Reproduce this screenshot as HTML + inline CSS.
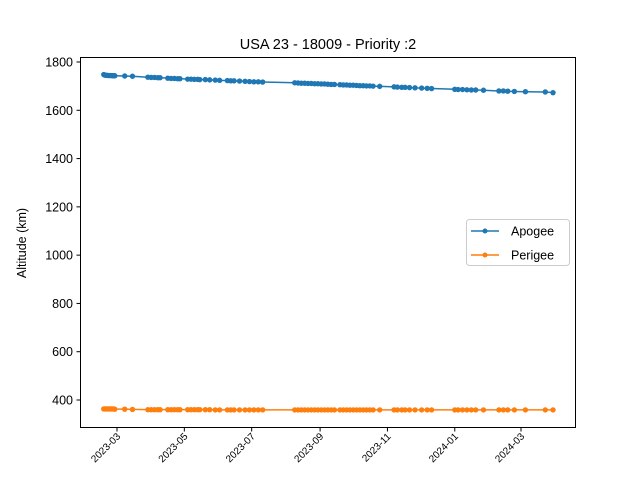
<!DOCTYPE html>
<html><head><meta charset="utf-8">
<style>
html,body{margin:0;padding:0;background:#fff;}
svg{display:block;font-family:"Liberation Sans","DejaVu Sans",sans-serif;}
</style></head>
<body>
<svg id="chart" width="640" height="480" viewBox="0 0 640 480" xmlns="http://www.w3.org/2000/svg">
<rect x="0" y="0" width="640" height="480" fill="#fff"/>
<text x="328" y="49" font-size="14.5" text-anchor="middle">USA 23 - 18009 - Priority :2</text>
<text transform="translate(26,243) rotate(-90)" font-size="12.5" text-anchor="middle">Altitude (km)</text>
<g id="plot"></g>
<rect x="80.5" y="57.5" width="495" height="370" fill="none" stroke="#000" stroke-width="1"/>
<g>
<rect x="466.5" y="219.5" width="103" height="46" rx="3" fill="#fff" stroke="#ccc"/>
<g>
<line x1="471" y1="231" x2="499" y2="231" stroke="#1f77b4" stroke-width="1.5"/>
<circle cx="485" cy="231" r="2.5" fill="#1f77b4"/>
<text x="511" y="235.5" font-size="12.5">Apogee</text></g>
<g>
<line x1="471" y1="255" x2="499" y2="255" stroke="#ff7f0e" stroke-width="1.5"/>
<circle cx="485" cy="255" r="2.5" fill="#ff7f0e"/>
<text x="511" y="259.5" font-size="12.5">Perigee</text></g>
</g>
</svg>
<script>
const dates = ["2023-02-17","2023-02-18","2023-02-19","2023-02-20","2023-02-21","2023-02-22","2023-02-23","2023-02-24","2023-02-25","2023-02-26","2023-02-27",
"2023-03-08","2023-03-15","2023-03-29","2023-04-01","2023-04-04","2023-04-07","2023-04-09",
"2023-04-16","2023-04-19","2023-04-22","2023-04-25","2023-04-27",
"2023-05-04","2023-05-07","2023-05-10","2023-05-13","2023-05-15","2023-05-20","2023-05-24","2023-05-29","2023-06-02",
"2023-06-09","2023-06-12","2023-06-15","2023-06-20","2023-06-25","2023-06-29","2023-07-03","2023-07-07","2023-07-11",
"2023-08-09","2023-08-12","2023-08-15","2023-08-18","2023-08-21","2023-08-24","2023-08-27","2023-08-30","2023-09-02","2023-09-05","2023-09-08","2023-09-11","2023-09-14",
"2023-09-19","2023-09-22","2023-09-25","2023-09-28","2023-10-01","2023-10-04","2023-10-07","2023-10-10","2023-10-13","2023-10-16","2023-10-19","2023-10-25",
"2023-11-07","2023-11-10","2023-11-14","2023-11-17","2023-11-21","2023-11-26","2023-12-02","2023-12-07","2023-12-11",
"2024-01-01","2024-01-04","2024-01-08","2024-01-12","2024-01-16","2024-01-20","2024-01-27",
"2024-02-10","2024-02-14","2024-02-18","2024-02-24","2024-03-05","2024-03-23","2024-03-30"];
const apogee = [1748,1746,1745,1745,1744,1744,1744,1744,1743,1743,1743,
1742,1741,1737,1736,1736,1735,1735,
1733,1732,1732,1731,1731,
1729,1729,1728,1728,1727,1727,1726,1725,1724,
1723,1722,1722,1721,1720,1719,1718,1718,1717,
1714,1713,1712,1712,1711,1711,1710,1710,1709,1709,1708,1707,1707,
1706,1705,1705,1704,1704,1703,1702,1702,1701,1701,1700,1699,
1697,1696,1695,1695,1694,1693,1692,1691,1690,
1687,1686,1686,1685,1684,1684,1683,
1680,1680,1679,1678,1677,1676,1673];
const perigee = [363,363,363,363,363,363,363,363,363,363,362,
362,361,360,360,360,360,360,
360,360,360,360,360,
360,360,360,360,360,360,360,359,359,
359,359,359,359,359,359,359,359,359,
359,359,359,359,359,359,359,359,359,359,359,359,359,
359,359,359,359,359,359,359,359,359,359,359,359,
359,359,359,359,359,359,359,359,359,
359,359,359,359,359,359,359,
359,359,359,359,359,359,359];
const yTicks = [400,600,800,1000,1200,1400,1600,1800];
const xTicks = ["2023-03","2023-05","2023-07","2023-09","2023-11","2024-01","2024-03"];

const NS="http://www.w3.org/2000/svg";
const plot=document.getElementById('plot');
const t0=Date.UTC(2023,2,1);
function dayOf(s){const p=s.split('-').map(Number);return (Date.UTC(p[0],p[1]-1,p[2]||1)-t0)/86400000;}
function xs(s){return 117+dayOf(s)*(404/366);}
function ys(v){return 400-(v-400)*(338/1400);}
function mk(tag,attrs){const e=document.createElementNS(NS,tag);for(const k in attrs)e.setAttribute(k,attrs[k]);return e;}

yTicks.forEach(v=>{
  const g=mk('g',{});
  
  
  const y=ys(v);
  g.appendChild(mk('line',{x1:76.5,x2:80.5,y1:y,y2:y,stroke:'#000'}));
  const t=mk('text',{x:73,y:y+4.5,'font-size':12.5,'text-anchor':'end'});t.textContent=v;g.appendChild(t);
  plot.appendChild(g);
});
xTicks.forEach(s=>{
  const g=mk('g',{});
  
  
  const x=xs(s);
  g.appendChild(mk('line',{x1:x,x2:x,y1:427.5,y2:431.5,stroke:'#000'}));
  const t=mk('text',{transform:`translate(${x+4},437) rotate(-45)`,'font-size':10,'text-anchor':'end'});t.textContent=s;g.appendChild(t);
  plot.appendChild(g);
});
function series(vals,color,name){
  const g=mk('g',{});
  
  
  const pts=dates.map((d,i)=>xs(d).toFixed(2)+','+ys(vals[i]).toFixed(2)).join(' ');
  g.appendChild(mk('polyline',{points:pts,fill:'none',stroke:color,'stroke-width':1.5}));
  dates.forEach((d,i)=>{
    const c=mk('circle',{cx:xs(d),cy:ys(vals[i]),r:2.7,fill:color});
    
    
    g.appendChild(c);
  });
  plot.appendChild(g);
}
series(apogee,'#1f77b4','apogee-series');
series(perigee,'#ff7f0e','perigee-series');
</script>
</body></html>
